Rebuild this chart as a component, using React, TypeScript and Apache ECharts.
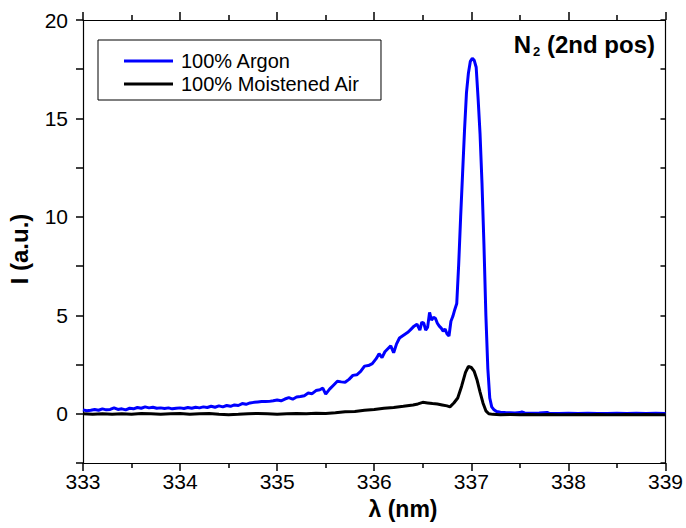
import React, { useEffect, useRef } from "react";
import * as echarts from "echarts";

const FONT = "'Liberation Sans', Arial, Helvetica, sans-serif";

const xTicks = [333, 334, 335, 336, 337, 338, 339];
const yTickLabels = [0, 5, 10, 15, 20];
const seriesNames = ["100% Argon", "100% Moistened Air"];

const argonX = [
  333.0, 333.04, 333.08, 333.12, 333.16, 333.2, 333.24, 333.28, 333.32, 333.36,
  333.4, 333.44, 333.48, 333.52, 333.56, 333.6, 333.64, 333.68, 333.72, 333.76,
  333.8, 333.84, 333.88, 333.92, 333.96, 334.0, 334.04, 334.08, 334.12, 334.16,
  334.2, 334.24, 334.28, 334.32, 334.36, 334.4, 334.44, 334.48, 334.52, 334.56,
  334.6, 334.64, 334.68, 334.72, 334.76, 334.8, 334.84, 334.88, 334.92, 334.96,
  335.0, 335.04, 335.08, 335.12, 335.16, 335.2, 335.24, 335.28, 335.32, 335.36,
  335.4, 335.44, 335.47, 335.5, 335.54, 335.58, 335.62, 335.66, 335.7, 335.74,
  335.78, 335.82, 335.86, 335.9, 335.94, 335.98, 336.02, 336.05, 336.08, 336.11,
  336.14, 336.17, 336.2, 336.23, 336.26, 336.29, 336.32, 336.35, 336.38, 336.41,
  336.44, 336.47, 336.49, 336.51, 336.53, 336.55, 336.57, 336.59, 336.61, 336.63,
  336.65, 336.67, 336.69, 336.71, 336.73, 336.75, 336.77, 336.79, 336.81, 336.83,
  336.85, 336.87, 336.89, 336.91, 336.93, 336.95, 336.97, 336.99, 337.01, 337.03,
  337.05, 337.07, 337.09, 337.11, 337.13, 337.15, 337.17, 337.19, 337.21, 337.23,
  337.26, 337.3, 337.35, 337.4, 337.45, 337.5, 337.52, 337.55, 337.6, 337.7,
  337.78, 337.8, 337.9, 338.0, 338.1, 338.2, 338.3, 338.4, 338.5, 338.6,
  338.7, 338.8, 338.9, 339.0,
];
const argonY = [
  0.2, 0.15, 0.18, 0.22, 0.18, 0.25, 0.2, 0.22, 0.3, 0.22,
  0.25, 0.2, 0.28, 0.25, 0.32, 0.28, 0.35, 0.3, 0.33, 0.28,
  0.3, 0.27, 0.3, 0.25, 0.28, 0.3, 0.27, 0.32, 0.28, 0.33,
  0.3, 0.35, 0.32, 0.38, 0.33, 0.4, 0.35, 0.42, 0.38, 0.45,
  0.42, 0.52, 0.48, 0.55, 0.58, 0.6, 0.62, 0.62, 0.63, 0.66,
  0.7, 0.66, 0.75, 0.82, 0.74, 0.85, 0.88, 0.92, 1.05, 1.02,
  1.18, 1.22, 1.3, 1.0, 1.25, 1.45, 1.65, 1.62, 1.6, 1.75,
  1.95, 1.98, 2.15, 2.42, 2.45, 2.55, 2.8, 3.05, 2.85, 3.15,
  3.3, 3.45, 3.1, 3.55, 3.85, 3.95, 4.05, 4.15, 4.3, 4.45,
  4.55, 4.25, 4.65, 4.6, 4.25, 4.4, 5.15, 4.75, 4.9, 4.85,
  4.6, 4.45, 4.35, 4.2, 4.3, 4.05, 3.95, 4.7, 4.95, 5.3,
  5.6, 7.6, 10.0, 12.2, 14.4, 16.3, 17.3, 17.9, 18.05, 17.95,
  17.6, 16.0, 14.2, 11.7, 8.6, 5.0, 2.3, 0.8, 0.35, 0.22,
  0.12, 0.08, 0.06, 0.05, 0.04, 0.06, 0.09, 0.04, 0.03, 0.04,
  0.07, 0.03, 0.02, 0.03, 0.02, 0.03, 0.02, 0.02, 0.03, 0.02,
  0.03, 0.02, 0.03, 0.02,
];

const airX = [
  333.0, 333.1, 333.2, 333.3, 333.4, 333.5, 333.6, 333.7, 333.8, 333.9,
  334.0, 334.1, 334.2, 334.3, 334.4, 334.5, 334.6, 334.7, 334.8, 334.9,
  335.0, 335.1, 335.2, 335.3, 335.4, 335.5, 335.6, 335.7, 335.8, 335.9,
  336.0, 336.1, 336.2, 336.3, 336.4, 336.45, 336.5, 336.55, 336.6, 336.65,
  336.7, 336.75, 336.78, 336.82, 336.86, 336.9, 336.94, 336.97, 337.0, 337.03,
  337.06, 337.09, 337.12, 337.15, 337.18, 337.22, 337.3, 337.4, 337.5, 337.6,
  337.7, 337.8, 337.9, 338.0, 338.1, 338.2, 338.3, 338.4, 338.5, 338.6,
  338.7, 338.8, 338.9, 339.0,
];
const airY = [
  0.0, -0.02, 0.0, -0.03, 0.0, -0.02, 0.02, 0.0, -0.02, 0.0,
  0.02, -0.02, 0.0, 0.02, -0.02, -0.05, -0.03, 0.0, 0.02, 0.0,
  -0.02, 0.0, 0.02, 0.0, 0.03, 0.02, 0.05, 0.1, 0.12, 0.18,
  0.22, 0.28, 0.32, 0.38, 0.45, 0.5, 0.58, 0.55, 0.52, 0.5,
  0.45, 0.4, 0.35, 0.55, 0.8, 1.4, 2.1, 2.4, 2.35, 2.15,
  1.7, 1.1, 0.55, 0.15, 0.0, -0.03, -0.05, -0.04, -0.05, -0.04,
  -0.05, -0.04, -0.05, -0.05, -0.04, -0.05, -0.04, -0.05, -0.05, -0.04,
  -0.05, -0.04, -0.05, -0.05,
];

const zip = (xs: number[], ys: number[]) => xs.map((x, i) => [x, ys[i]]);

export default function App() {
  const ref = useRef<HTMLDivElement>(null);
  useEffect(() => {
    if (!ref.current) return;
    const chart = echarts.init(ref.current, null, { renderer: "svg" });
    const mkLine = () => ({ show: true, onZero: false, lineStyle: { color: "#000", width: 1.2 } });
    const mkTick = () => ({ color: "#000", width: 1.5 });
    const tickLabel = { color: "#000", fontSize: 21, fontFamily: FONT };
    chart.setOption({
      animation: false,
      backgroundColor: "#fff",
      grid: { left: 83, right: 19, top: 20, bottom: 65 },
      legend: {
        orient: "vertical",
        left: 98,
        top: 40,
        padding: [11, 21, 6, 26],
        borderColor: "#000",
        borderWidth: 1,
        icon: "rect",
        itemWidth: 49,
        itemHeight: 3,
        itemGap: 3,
        data: seriesNames,
        textStyle: { color: "#000", fontSize: 20, fontFamily: FONT, padding: [0, 0, 0, 3] },
      },
      xAxis: [
        {
          type: "value",
          position: "bottom",
          min: xTicks[0],
          max: xTicks[xTicks.length - 1],
          interval: 1,
          axisLine: mkLine(),
          axisTick: { show: true, inside: false, length: 8, lineStyle: mkTick() },
          minorTick: { show: true, splitNumber: 2, length: 5, lineStyle: mkTick() },
          splitLine: { show: false },
          axisLabel: { ...tickLabel, margin: 8 },
        },
        {
          type: "value",
          position: "top",
          min: xTicks[0],
          max: xTicks[xTicks.length - 1],
          interval: 1,
          axisLine: mkLine(),
          axisTick: { show: true, inside: false, length: 8, lineStyle: mkTick() },
          minorTick: { show: true, splitNumber: 2, length: 5, lineStyle: mkTick() },
          splitLine: { show: false },
          axisLabel: { show: false },
        },
      ],
      yAxis: [
        {
          type: "value",
          position: "left",
          min: -2.5,
          max: 20,
          interval: 2.5,
          axisLine: mkLine(),
          axisTick: { show: true, inside: false, length: 7, lineStyle: mkTick() },
          splitLine: { show: false },
          axisLabel: { ...tickLabel, margin: 15, customValues: yTickLabels },
        },
        {
          type: "value",
          position: "right",
          min: -2.5,
          max: 20,
          interval: 2.5,
          axisLine: mkLine(),
          axisTick: { show: true, inside: true, length: 5, lineStyle: mkTick() },
          splitLine: { show: false },
          axisLabel: { show: false },
        },
      ],
      graphic: [
        {
          type: "text",
          right: 31,
          top: 32,
          style: {
            text: "{a|N}{s|2}{a| (2nd pos)}",
            rich: {
              a: { fontSize: 24, fontWeight: "bold", fontFamily: FONT, fill: "#000" },
              s: { fontSize: 13, fontWeight: "bold", fontFamily: FONT, fill: "#000", padding: [15, 0, 0, 2] },
            },
          },
        },
        {
          type: "text",
          x: 403,
          y: 509,
          style: {
            text: "λ (nm)",
            fontSize: 23,
            fontWeight: "bold",
            fontFamily: FONT,
            fill: "#000",
            align: "center",
            verticalAlign: "middle",
          },
        },
        {
          type: "text",
          x: 19,
          y: 249,
          rotation: Math.PI / 2,
          style: {
            text: "I (a.u.)",
            fontSize: 24,
            fontWeight: "bold",
            fontFamily: FONT,
            fill: "#000",
            align: "center",
            verticalAlign: "middle",
          },
        },
      ],
      series: [
        {
          name: seriesNames[0],
          type: "line",
          xAxisIndex: 0,
          yAxisIndex: 0,
          data: zip(argonX, argonY),
          symbol: "none",
          lineStyle: { color: "#0000ff", width: 3 },
          itemStyle: { color: "#0000ff" },
        },
        {
          name: seriesNames[1],
          type: "line",
          xAxisIndex: 0,
          yAxisIndex: 0,
          data: zip(airX, airY),
          symbol: "none",
          lineStyle: { color: "#000", width: 3 },
          itemStyle: { color: "#000" },
        },
      ],
    });
    return () => chart.dispose();
  }, []);
  return (
    <div
      ref={ref}
      style={{ position: "fixed", left: 0, top: 0, width: 686, height: 528, background: "#fff" }}
    />
  );
}
